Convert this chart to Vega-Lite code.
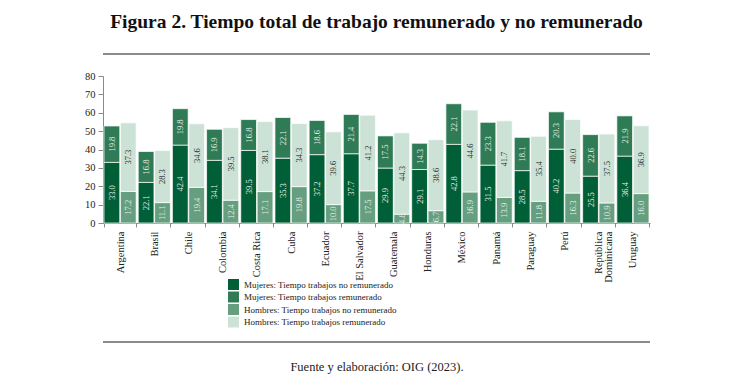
{
  "$schema": "https://vega.github.io/schema/vega-lite/v6.json",
  "width": 547,
  "height": 147,
  "autosize": {"type": "none"},
  "padding": {"left": 103, "top": 76, "right": 100, "bottom": 169},
  "background": "white",
  "title": {
    "text": "Figura 2. Tiempo total de trabajo remunerado y no remunerado",
    "font": "Liberation Serif",
    "fontSize": 19.5,
    "fontWeight": "bold",
    "color": "#111111",
    "anchor": "middle",
    "offset": 21
  },
  "config": {
    "view": {"stroke": null},
    "font": "Liberation Serif",
    "axisY": {
      "grid": false,
      "title": null,
      "labelFont": "Liberation Serif",
      "labelFontSize": 10.5,
      "labelColor": "#222222",
      "labelPadding": 3,
      "tickSize": 5,
      "tickColor": "#8a8a8a",
      "domainColor": "#8a8a8a"
    }
  },
  "data": {
    "values": [
      {"pais": "Argentina", "sexo": "Mujeres", "trabajo": "No remunerado", "horas": 33.0},
      {"pais": "Argentina", "sexo": "Mujeres", "trabajo": "Remunerado", "horas": 19.8},
      {"pais": "Argentina", "sexo": "Hombres", "trabajo": "No remunerado", "horas": 17.2},
      {"pais": "Argentina", "sexo": "Hombres", "trabajo": "Remunerado", "horas": 37.3},
      {"pais": "Brasil", "sexo": "Mujeres", "trabajo": "No remunerado", "horas": 22.1},
      {"pais": "Brasil", "sexo": "Mujeres", "trabajo": "Remunerado", "horas": 16.8},
      {"pais": "Brasil", "sexo": "Hombres", "trabajo": "No remunerado", "horas": 11.1},
      {"pais": "Brasil", "sexo": "Hombres", "trabajo": "Remunerado", "horas": 28.3},
      {"pais": "Chile", "sexo": "Mujeres", "trabajo": "No remunerado", "horas": 42.4},
      {"pais": "Chile", "sexo": "Mujeres", "trabajo": "Remunerado", "horas": 19.8},
      {"pais": "Chile", "sexo": "Hombres", "trabajo": "No remunerado", "horas": 19.4},
      {"pais": "Chile", "sexo": "Hombres", "trabajo": "Remunerado", "horas": 34.6},
      {"pais": "Colombia", "sexo": "Mujeres", "trabajo": "No remunerado", "horas": 34.1},
      {"pais": "Colombia", "sexo": "Mujeres", "trabajo": "Remunerado", "horas": 16.9},
      {"pais": "Colombia", "sexo": "Hombres", "trabajo": "No remunerado", "horas": 12.4},
      {"pais": "Colombia", "sexo": "Hombres", "trabajo": "Remunerado", "horas": 39.5},
      {"pais": "Costa Rica", "sexo": "Mujeres", "trabajo": "No remunerado", "horas": 39.5},
      {"pais": "Costa Rica", "sexo": "Mujeres", "trabajo": "Remunerado", "horas": 16.8},
      {"pais": "Costa Rica", "sexo": "Hombres", "trabajo": "No remunerado", "horas": 17.1},
      {"pais": "Costa Rica", "sexo": "Hombres", "trabajo": "Remunerado", "horas": 38.1},
      {"pais": "Cuba", "sexo": "Mujeres", "trabajo": "No remunerado", "horas": 35.3},
      {"pais": "Cuba", "sexo": "Mujeres", "trabajo": "Remunerado", "horas": 22.1},
      {"pais": "Cuba", "sexo": "Hombres", "trabajo": "No remunerado", "horas": 19.8},
      {"pais": "Cuba", "sexo": "Hombres", "trabajo": "Remunerado", "horas": 34.3},
      {"pais": "Ecuador", "sexo": "Mujeres", "trabajo": "No remunerado", "horas": 37.2},
      {"pais": "Ecuador", "sexo": "Mujeres", "trabajo": "Remunerado", "horas": 18.6},
      {"pais": "Ecuador", "sexo": "Hombres", "trabajo": "No remunerado", "horas": 10.0},
      {"pais": "Ecuador", "sexo": "Hombres", "trabajo": "Remunerado", "horas": 39.6},
      {"pais": "El Salvador", "sexo": "Mujeres", "trabajo": "No remunerado", "horas": 37.7},
      {"pais": "El Salvador", "sexo": "Mujeres", "trabajo": "Remunerado", "horas": 21.4},
      {"pais": "El Salvador", "sexo": "Hombres", "trabajo": "No remunerado", "horas": 17.5},
      {"pais": "El Salvador", "sexo": "Hombres", "trabajo": "Remunerado", "horas": 41.2},
      {"pais": "Guatemala", "sexo": "Mujeres", "trabajo": "No remunerado", "horas": 29.9},
      {"pais": "Guatemala", "sexo": "Mujeres", "trabajo": "Remunerado", "horas": 17.5},
      {"pais": "Guatemala", "sexo": "Hombres", "trabajo": "No remunerado", "horas": 4.8},
      {"pais": "Guatemala", "sexo": "Hombres", "trabajo": "Remunerado", "horas": 44.3},
      {"pais": "Honduras", "sexo": "Mujeres", "trabajo": "No remunerado", "horas": 29.1},
      {"pais": "Honduras", "sexo": "Mujeres", "trabajo": "Remunerado", "horas": 14.3},
      {"pais": "Honduras", "sexo": "Hombres", "trabajo": "No remunerado", "horas": 6.7},
      {"pais": "Honduras", "sexo": "Hombres", "trabajo": "Remunerado", "horas": 38.6},
      {"pais": "México", "sexo": "Mujeres", "trabajo": "No remunerado", "horas": 42.8},
      {"pais": "México", "sexo": "Mujeres", "trabajo": "Remunerado", "horas": 22.1},
      {"pais": "México", "sexo": "Hombres", "trabajo": "No remunerado", "horas": 16.9},
      {"pais": "México", "sexo": "Hombres", "trabajo": "Remunerado", "horas": 44.6},
      {"pais": "Panamá", "sexo": "Mujeres", "trabajo": "No remunerado", "horas": 31.5},
      {"pais": "Panamá", "sexo": "Mujeres", "trabajo": "Remunerado", "horas": 23.3},
      {"pais": "Panamá", "sexo": "Hombres", "trabajo": "No remunerado", "horas": 13.9},
      {"pais": "Panamá", "sexo": "Hombres", "trabajo": "Remunerado", "horas": 41.7},
      {"pais": "Paraguay", "sexo": "Mujeres", "trabajo": "No remunerado", "horas": 28.5},
      {"pais": "Paraguay", "sexo": "Mujeres", "trabajo": "Remunerado", "horas": 18.1},
      {"pais": "Paraguay", "sexo": "Hombres", "trabajo": "No remunerado", "horas": 11.8},
      {"pais": "Paraguay", "sexo": "Hombres", "trabajo": "Remunerado", "horas": 35.4},
      {"pais": "Perú", "sexo": "Mujeres", "trabajo": "No remunerado", "horas": 40.2},
      {"pais": "Perú", "sexo": "Mujeres", "trabajo": "Remunerado", "horas": 20.3},
      {"pais": "Perú", "sexo": "Hombres", "trabajo": "No remunerado", "horas": 16.3},
      {"pais": "Perú", "sexo": "Hombres", "trabajo": "Remunerado", "horas": 40.0},
      {"pais": "República Dominicana", "sexo": "Mujeres", "trabajo": "No remunerado", "horas": 25.5},
      {"pais": "República Dominicana", "sexo": "Mujeres", "trabajo": "Remunerado", "horas": 22.6},
      {"pais": "República Dominicana", "sexo": "Hombres", "trabajo": "No remunerado", "horas": 10.9},
      {"pais": "República Dominicana", "sexo": "Hombres", "trabajo": "Remunerado", "horas": 37.5},
      {"pais": "Uruguay", "sexo": "Mujeres", "trabajo": "No remunerado", "horas": 36.4},
      {"pais": "Uruguay", "sexo": "Mujeres", "trabajo": "Remunerado", "horas": 21.9},
      {"pais": "Uruguay", "sexo": "Hombres", "trabajo": "No remunerado", "horas": 16.0},
      {"pais": "Uruguay", "sexo": "Hombres", "trabajo": "Remunerado", "horas": 36.9}
    ]
  },
  "transform": [
    {"stack": "horas", "groupby": ["pais", "sexo"], "sort": [{"field": "trabajo", "order": "ascending"}], "as": ["y0", "y1"]},
    {"calculate": "(datum.y0 + datum.y1) / 2", "as": "ymid"},
    {"calculate": "datum.sexo + ': Tiempo trabajos ' + lower(datum.trabajo)", "as": "serie"}
  ],
  "layer": [
    {
      "mark": {"type": "bar", "stroke": "white", "strokeWidth": 0.7},
      "encoding": {
        "x": {
          "field": "pais", "type": "nominal", "sort": null,
          "scale": {"paddingInner": 0.06, "paddingOuter": 0.03},
          "axis": {
            "title": "Fuente y elaboración: OIG (2023).",
            "titleFont": "Liberation Serif",
            "titleFontSize": 12.5,
            "titleFontWeight": "normal",
            "titleColor": "#222222",
            "titlePadding": 78,
            "labelAngle": -90,
            "labelAlign": "right",
            "labelBaseline": "middle",
            "labelOverlap": false,
            "labelFont": "Liberation Serif",
            "labelFontSize": 10.5,
            "labelColor": "#222222",
            "labelPadding": 4,
            "labelLineHeight": 10,
            "labelExpr": "datum.value == 'República Dominicana' ? ['República', 'Dominicana'] : datum.value",
            "tickBand": "extent",
            "tickSize": 4,
            "tickColor": "#8a8a8a",
            "domainColor": "#8a8a8a"
          }
        },
        "xOffset": {"field": "sexo", "type": "nominal", "sort": ["Mujeres", "Hombres"], "scale": {"paddingInner": 0.04}},
        "y": {
          "field": "y0", "type": "quantitative",
          "scale": {"domain": [0, 80], "nice": false},
          "axis": {"values": [0, 10, 20, 30, 40, 50, 60, 70, 80], "labelOverlap": false, "tickCount": 9}
        },
        "y2": {"field": "y1"},
        "color": {
          "field": "serie", "type": "nominal",
          "scale": {
            "domain": [
              "Mujeres: Tiempo trabajos no remunerado",
              "Mujeres: Tiempo trabajos remunerado",
              "Hombres: Tiempo trabajos no remunerado",
              "Hombres: Tiempo trabajos remunerado"
            ],
            "range": ["#005f37", "#2f7b56", "#659f80", "#cde2d6"]
          },
          "legend": {
            "title": null,
            "orient": "none",
            "legendX": 125,
            "legendY": 203,
            "symbolType": "square",
            "symbolSize": 120,
            "symbolStrokeWidth": 0,
            "labelFont": "Liberation Serif",
            "labelFontSize": 9,
            "labelColor": "#222222",
            "rowPadding": 1.5,
            "labelOffset": 5
          }
        }
      }
    },
    {
      "mark": {"type": "text", "angle": 270, "align": "center", "baseline": "middle", "font": "Liberation Serif", "fontSize": 8.5},
      "encoding": {
        "x": {"field": "pais", "type": "nominal", "sort": null},
        "xOffset": {"field": "sexo", "type": "nominal", "sort": ["Mujeres", "Hombres"]},
        "y": {"field": "ymid", "type": "quantitative"},
        "text": {"field": "horas", "type": "quantitative", "format": ".1f"},
        "color": {
          "condition": {"test": "datum.sexo == 'Hombres' && datum.trabajo == 'Remunerado'", "value": "#2a2a2a"},
          "value": "#e4efe8"
        }
      }
    },
    {
      "mark": {"type": "rule", "color": "#8a8a8a", "strokeWidth": 1.3},
      "encoding": {"y": {"datum": 92, "type": "quantitative"}}
    },
    {
      "mark": {"type": "rule", "color": "#8a8a8a", "strokeWidth": 1.3},
      "encoding": {"y": {"datum": -64.8, "type": "quantitative"}}
    }
  ]
}
